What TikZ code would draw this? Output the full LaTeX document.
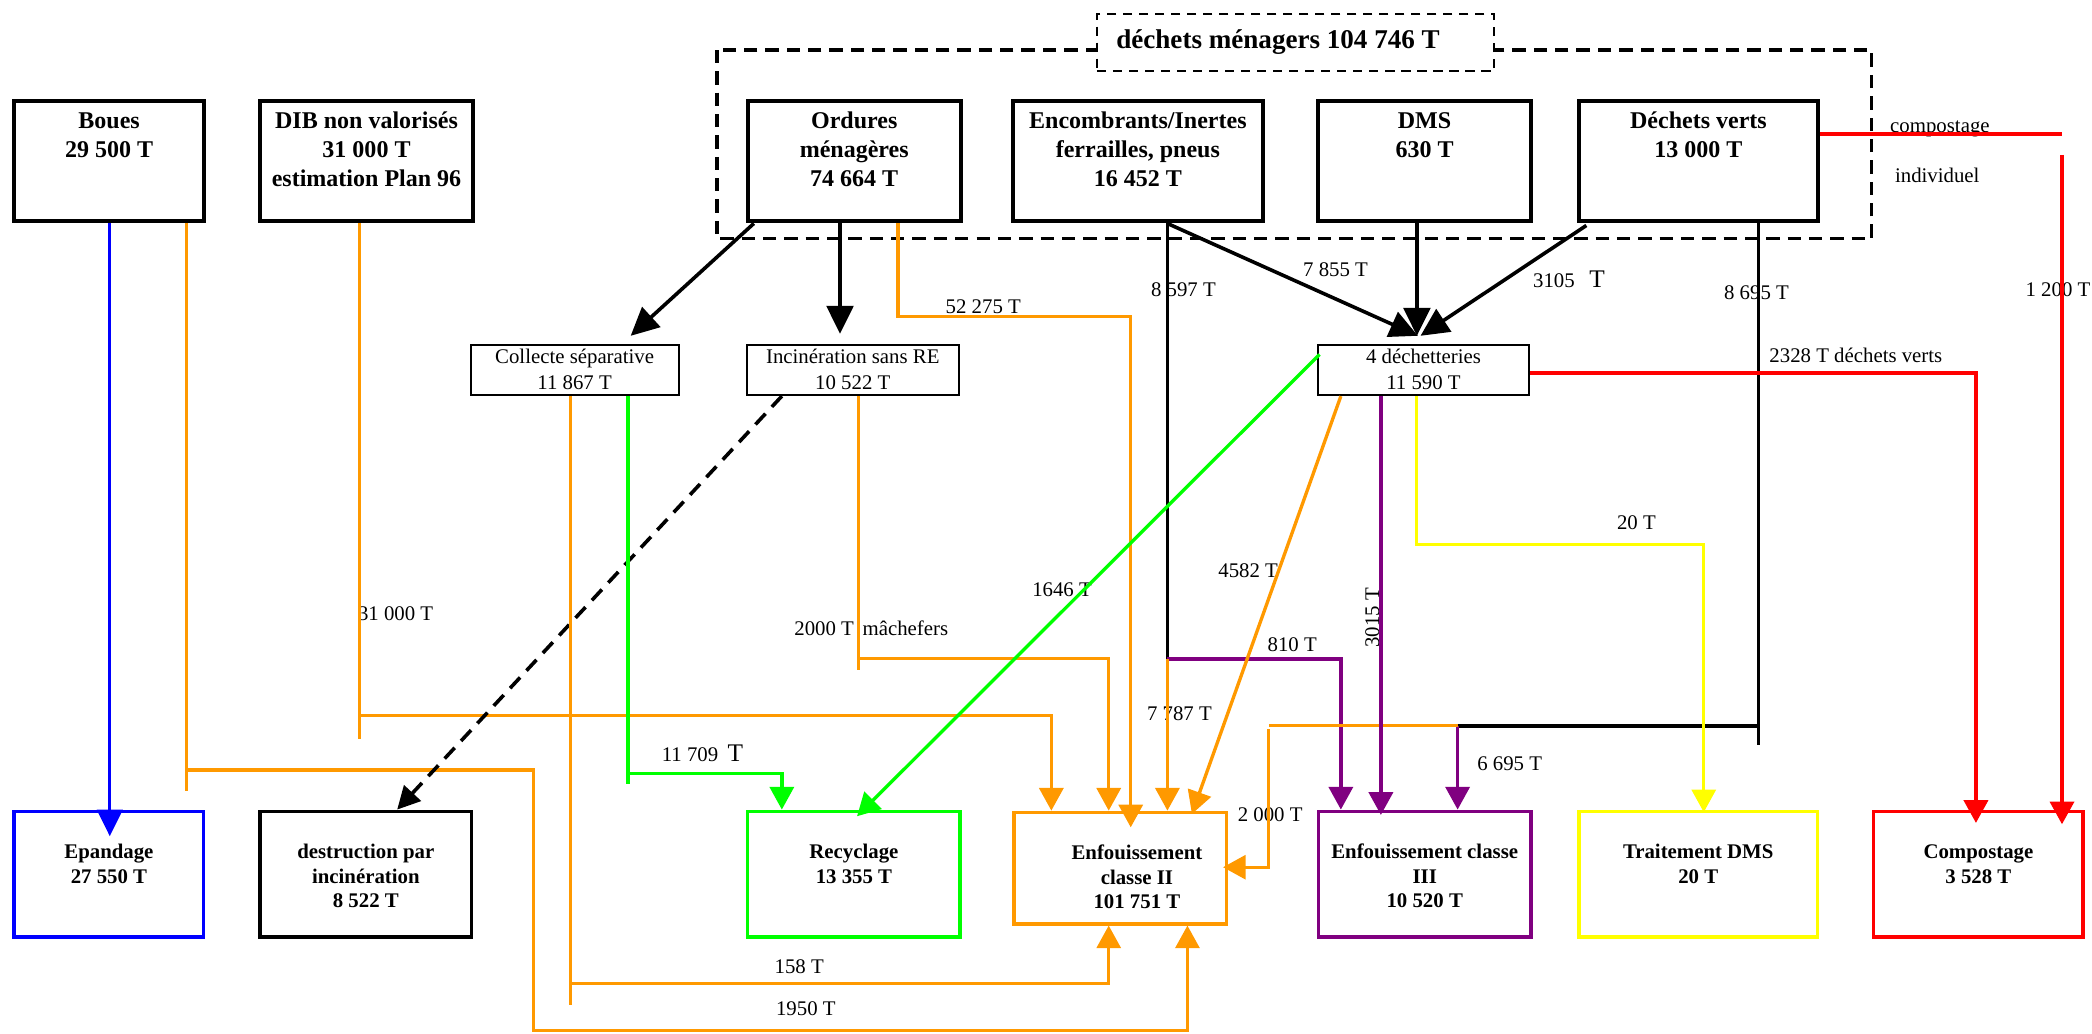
\documentclass[tikz,border=0pt]{standalone}
\usepackage{fontspec}
\setmainfont{Liberation Serif}
\usepackage{tikz}
\usetikzlibrary{
  arrows.meta,%
  calc
}
\definecolor{flowblue}{RGB}{0,0,255}
\definecolor{flowgreen}{RGB}{0,255,0}
\definecolor{floworange}{RGB}{255,153,0}
\definecolor{flowpurple}{RGB}{128,0,128}
\definecolor{flowyellow}{RGB}{255,255,0}
\definecolor{flowred}{RGB}{255,0,0}
% box contents: text hangs from the top of the box
\newcommand{\srccell}[2]{\parbox[c][90pt][t]{#1}{\centering\fontsize{18}{21.5}\selectfont\bfseries\rule{0pt}{20.5pt}#2}}
\newcommand{\midcell}[2]{\parbox[c][37.8pt][t]{#1}{\centering\fontsize{15.6}{19}\selectfont\rule{0pt}{14.4pt}#2}}
\newcommand{\sinkcell}[3]{\parbox[c][#2][t]{#1}{\centering\fontsize{15.6}{18.2}\selectfont\bfseries\rule{0pt}{35.5pt}#3}}
\tikzset{
  menagerframe/.style={draw, line width=2.3pt, dash pattern=on 10pt off 6pt},
  titlebox/.style={draw, line width=1.8pt, dash pattern=on 7pt off 5pt, fill=white, inner sep=0pt, anchor=north west},
  srcbox/.style={draw, line width=3pt, inner sep=0pt, anchor=north west},
  midbox/.style={draw, line width=1.4pt, inner sep=0pt, anchor=north west},
  sinkbox/.style={draw, line width=2.7pt, inner sep=0pt, anchor=north west},
  lbl/.style={inner sep=0pt, anchor=base, font=\fontsize{15.6}{18}\selectfont},
  flow/.style={line width=2.5pt},
  blackflow/.style={line width=2.7pt},
  flowtip/.style={-{Triangle[length=17pt,width=18pt]}},
  blacktip/.style={-{Triangle[length=21pt,width=20pt]}}
}

\begin{document}
\begin{tikzpicture}[x=1pt, y=-1pt]
  \useasboundingbox (0,0) rectangle (1568,775);
  \draw[menagerframe] (537.4,37.5) rectangle (1403,179);
  \node[titlebox] (titre) at (821.3,9.5) {\parbox[c][43pt][c]{297.7pt}{\hspace*{14.5pt}\fontsize{20.3}{24}\selectfont\bfseries déchets ménagers 104 746 T}};

  \node[srcbox] (boues) at (9.3,74.5) {\srccell{142pt}{Boues\\29 500 T}};
  \node[srcbox] (dib) at (193.7,74.5) {\srccell{159pt}{DIB non valorisés\\31 000 T\\estimation Plan 96}};
  \node[srcbox] (ordures) at (559,74.5) {\srccell{159.5pt}{Ordures\\ménagères\\74 664 T}};
  \node[srcbox] (encomb) at (757.6,74.5) {\srccell{187.5pt}{Encombrants/Inertes\\ferrailles, pneus\\16 452 T}};
  \node[srcbox] (dms) at (986.5,74.5) {\srccell{159.5pt}{DMS\\630 T}};
  \node[srcbox] (verts) at (1182,74.5) {\srccell{179pt}{Déchets verts\\13 000 T}};

  \node[midbox] (collecte) at (352,257.7) {\midcell{156pt}{Collecte séparative\\11 867 T}};
  \node[midbox] (incin) at (559,257.7) {\midcell{159pt}{Incinération sans RE\\10 522 T}};
  \node[midbox] (dechet) at (987,257.7) {\midcell{158.5pt}{4 déchetteries\\11 590 T}};

  \node[sinkbox, draw=flowblue] (epandage) at (9.3,606.8) {\sinkcell{142pt}{94pt}{Epandage\\27 550 T}};
  \node[sinkbox, draw=black] (destruction) at (193.7,606.8) {\sinkcell{158.3pt}{94pt}{destruction par\\incinération\\8 522 T}};
  \node[sinkbox, draw=flowgreen] (recyclage) at (559,606.8) {\sinkcell{159.4pt}{94pt}{Recyclage\\13 355 T}};
  \node[sinkbox, draw=floworange] (enfII) at (758.6,607.6) {\sinkcell{159.4pt}{83.4pt}{\advance\leftskip by 25pt Enfouissement\\classe II\\101 751 T}};
  \node[sinkbox, draw=flowpurple] (enfIII) at (987,606.8) {\sinkcell{159pt}{94pt}{Enfouissement classe\\III\\10 520 T}};
  \node[sinkbox, draw=flowyellow] (traitement) at (1182,606.8) {\sinkcell{179pt}{94pt}{Traitement DMS\\20 T}};
  \node[sinkbox, draw=flowred] (compost) at (1403,606.8) {\sinkcell{157pt}{94pt}{Compostage\\3 528 T}};

  % tonnages
  \node[lbl] (l52275) at (737,235) {52 275 T};
  \node[lbl] (l8597) at (887,222) {8 597 T};
  \node[lbl] (l7855) at (1001,207) {7 855 T};
  \node[lbl] (l3105) at (1176,215.4) {3105\hspace{11pt}{\fontsize{19}{19}\selectfont T}};
  \node[lbl] (l8695) at (1316.5,224.4) {8 695 T};
  \node[lbl] (l1200) at (1542.5,222) {1 200 T};
  \node[lbl] (lcompost) at (1454,99) {compostage};
  \node[lbl] (lindiv) at (1452,137) {individuel};
  \node[lbl] (l2328) at (1391,272) {2328 T déchets verts};
  \node[lbl] (l31000) at (296.5,465) {31 000 T};
  \node[lbl] (lmachefers) at (653,476) {2000 T\hspace{6.5pt}mâchefers};
  \node[lbl] (l1646) at (796,447.4) {1646 T};
  \node[lbl] (l4582) at (935.5,433) {4582 T};
  \node[lbl, anchor=center, rotate=90] (l3015) at (1028.5,463) {3015 T};
  \node[lbl] (l810) at (968.5,488.5) {810 T};
  \node[lbl] (l7787) at (884,539.7) {7 787 T};
  \node[lbl] (l2000) at (952,616) {2 000 T};
  \node[lbl] (l6695) at (1131.5,577.7) {6 695 T};
  \node[lbl] (l20) at (1226.5,396.8) {20 T};
  \node[lbl] (l11709) at (526.5,571) {11 709\hspace{7pt}{\fontsize{19}{19}\selectfont T}};
  \node[lbl] (l158) at (599,729.6) {158 T};
  \node[lbl] (l1950) at (604,761) {1950 T};

  % Boues, DIB
  \draw[flow, flowblue, -{Triangle[length=20pt,width=19pt]}, shorten >=-20pt] (82.3,0 |- boues.south) -- (82.3,0 |- epandage.north);
  \draw[flow, floworange] (140,0 |- boues.south) -- (140,593);
  \draw[flow, floworange, flowtip] (140,577.2) -- (400,577.2) -- (400,772.6) -- (890,772.6) -- (890,0 |- enfII.south);
  \draw[flow, floworange] (269.5,0 |- dib.south) -- (269.5,553.8);
  \draw[flow, floworange, flowtip] (269.5,536.2) -- (788,536.2) -- (788,0 |- enfII.north);

  % ordures menageres
  \draw[blackflow, blacktip] ($(ordures.south west)+(6,0)$) -- ($(collecte.north)+(42,-6)$);
  \draw[blackflow, blacktip, shorten >=7.5pt] (629.6,0 |- ordures.south) -- (629.6,0 |- incin.north);
  \draw[flow, floworange, flowtip, shorten >=-12.5pt] (673,0 |- ordures.south) -- (673,237.4) -- (847.5,237.4) -- (847.5,0 |- enfII.north);

  % encombrants, DMS, dechets verts
  \draw[blackflow] (875,0 |- encomb.south) -- (875,494);
  \draw[flow, flowpurple, flowtip] (875,494) -- (1005,494) -- (1005,0 |- enfIII.north);
  \draw[flow, floworange, flowtip] (875,494) -- (875,0 |- enfII.north);
  \draw[blackflow, blacktip] (875,0 |- encomb.south) -- ($(dechet.north)+(-4.25,-6)$);
  \draw[blackflow, blacktip, shorten >=6pt] (1062,0 |- dms.south) -- (1062,0 |- dechet.north);
  \draw[blackflow, blacktip] ($(verts.south west)+(7,1.5)$) -- ($(dechet.north)+(-2.25,-6)$);
  \draw[blackflow] (1318,0 |- verts.south) -- (1318,558.5);
  \draw[blackflow] (1318,544) -- (1092.5,544);
  \draw[flow, flowpurple, flowtip] (1092.5,544) -- (1092.5,0 |- enfIII.north);
  \draw[flow, floworange] (1092.5,544) -- (951,544);
  \draw[flow, floworange, flowtip, shorten >=-4pt] (951,546.5) -- (951,650) -- (enfII.east |- 0,650);
  \draw[flow, flowred, line width=2.7pt] (verts.east |- 0,100.4) -- (1545.5,100.4);
  \draw[flow, flowred, line width=2.7pt, flowtip, shorten >=-11pt] (1545.5,116) -- (1545.5,0 |- compost.north);

  % incineration, collecte separative
  \draw[blackflow, dash pattern=on 11pt off 7pt, -{Triangle[length=17pt,width=17pt]}] (586,0 |- incin.south) -- (297.7,0 |- destruction.north);
  \draw[flow, floworange] (643.4,0 |- incin.south) -- (643.4,502);
  \draw[flow, floworange, flowtip] (643.4,493.8) -- (831,493.8) -- (831,0 |- enfII.north);
  \draw[flow, floworange] (427.8,0 |- collecte.south) -- (427.8,753);
  \draw[flow, floworange, flowtip] (427.8,737.2) -- (831,737.2) -- (831,0 |- enfII.south);
  \draw[flow, flowgreen] (470.8,0 |- collecte.south) -- (470.8,587.7);
  \draw[flow, flowgreen, flowtip] (470.8,579.6) -- (586,579.6) -- (586,0 |- recyclage.north);

  % dechetteries
  \draw[flow, flowgreen, flowtip] ($(dechet.north west)+(2,8)$) -- ($(recyclage.north)+(2.3,5)$);
  \draw[flow, floworange, flowtip] ($(dechet.south west)+(18,0)$) -- ($(enfII.north)+(53.7,2.5)$);
  \draw[flow, flowpurple, flowtip, shorten >=-4pt] (1035,0 |- dechet.south) -- (1035,0 |- enfIII.north);
  \draw[flow, flowyellow, flowtip, shorten >=-2pt] (1061.5,0 |- dechet.south) -- (1061.5,408) -- (1277,408) -- (1277,0 |- traitement.north);
  \draw[flow, flowred, line width=2.7pt, flowtip, shorten >=-10pt] (dechet.east |- 0,279.7) -- (1481,279.7) -- (1481,0 |- compost.north);
\end{tikzpicture}
\end{document}
